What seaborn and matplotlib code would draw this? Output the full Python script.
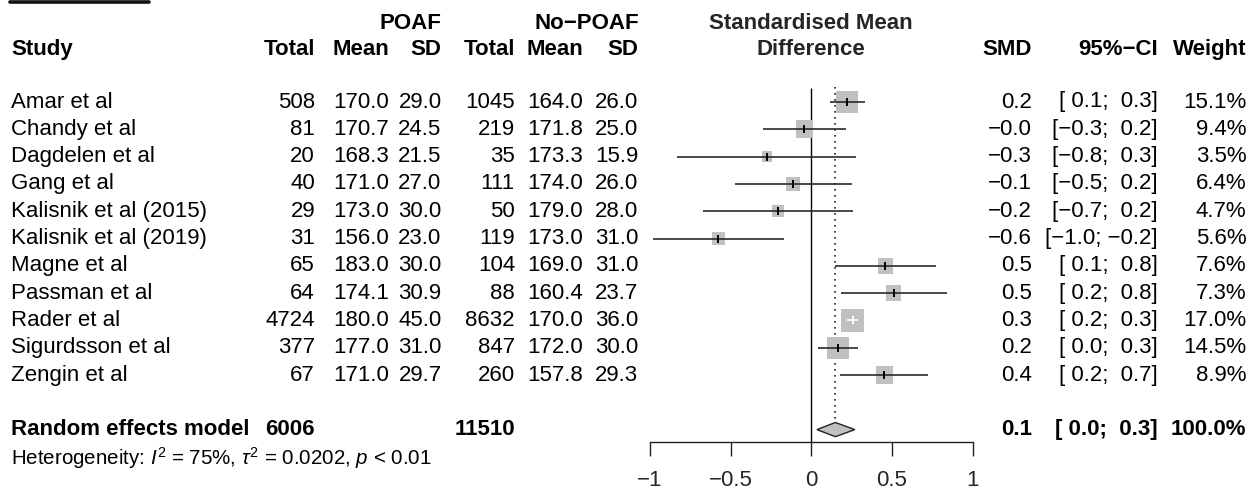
import numpy as np
import pandas as pd
import matplotlib
matplotlib.use("Agg")
import matplotlib.pyplot as plt
import matplotlib.transforms as mtransforms
from matplotlib.lines import Line2D
import seaborn as sns

# ---- data ----
studies = ["Amar et al", "Chandy et al", "Dagdelen et al", "Gang et al",
           "Kalisnik et al (2015)", "Kalisnik et al (2019)", "Magne et al",
           "Passman et al", "Rader et al", "Sigurdsson et al", "Zengin et al"]
poaf_total = [508, 81, 20, 40, 29, 31, 65, 64, 4724, 377, 67]
poaf_mean = [170.0, 170.7, 168.3, 171.0, 173.0, 156.0, 183.0, 174.1, 180.0, 177.0, 171.0]
poaf_sd = [29.0, 24.5, 21.5, 27.0, 30.0, 23.0, 30.0, 30.9, 45.0, 31.0, 29.7]
nopoaf_total = [1045, 219, 35, 111, 50, 119, 104, 88, 8632, 847, 260]
nopoaf_mean = [164.0, 171.8, 173.3, 174.0, 179.0, 173.0, 169.0, 160.4, 170.0, 172.0, 157.8]
nopoaf_sd = [26.0, 25.0, 15.9, 26.0, 28.0, 31.0, 31.0, 23.7, 36.0, 30.0, 29.3]

smd = [0.221, -0.043, -0.275, -0.114, -0.207, -0.576, 0.460, 0.511, 0.256, 0.165, 0.453]
ci_lo = [0.114, -0.300, -0.830, -0.476, -0.669, -0.980, 0.149, 0.184, 0.220, 0.040, 0.180]
ci_hi = [0.330, 0.217, 0.280, 0.253, 0.257, -0.170, 0.776, 0.839, 0.290, 0.287, 0.725]
weight = [15.1, 9.4, 3.5, 6.4, 4.7, 5.6, 7.6, 7.3, 17.0, 14.5, 8.9]

smd_txt = ["0.2", "\u22120.0", "\u22120.3", "\u22120.1", "\u22120.2", "\u22120.6",
           "0.5", "0.5", "0.3", "0.2", "0.4"]
ci_txt = ["[ 0.1;  0.3]", "[\u22120.3;  0.2]", "[\u22120.8;  0.3]", "[\u22120.5;  0.2]",
          "[\u22120.7;  0.2]", "[\u22121.0; \u22120.2]", "[ 0.1;  0.8]", "[ 0.2;  0.8]",
          "[ 0.2;  0.3]", "[ 0.0;  0.3]", "[ 0.2;  0.7]"]
weight_txt = ["15.1%", "9.4%", "3.5%", "6.4%", "4.7%", "5.6%", "7.6%", "7.3%",
              "17.0%", "14.5%", "8.9%"]

pooled_smd = 0.149
pooled_lo = 0.035
pooled_hi = 0.270
pooled_n = [6006, 11510]
pooled_txt = ["0.1", "[ 0.0;  0.3]", "100.0%"]
het_txt = r"Heterogeneity: $I^2$ = 75%, $\tau^2$ = 0.0202, $p$ < 0.01"

xticks = [-1, -0.5, 0, 0.5, 1]
xtick_labels = ["\u22121", "\u22120.5", "0", "0.5", "1"]

df = pd.DataFrame({"study": studies, "smd": smd, "lo": ci_lo, "hi": ci_hi,
                   "weight": weight})
df["row"] = np.arange(len(df))

# ---- style ----
sns.set_theme(style="white")
plt.rcParams["font.family"] = ["Liberation Sans", "DejaVu Sans"]
plt.rcParams["mathtext.fontset"] = "custom"
plt.rcParams["mathtext.rm"] = "Liberation Sans"
plt.rcParams["mathtext.it"] = "Liberation Sans:italic"
plt.rcParams["mathtext.bf"] = "Liberation Sans:bold"

W, H = 1255, 496
FS = 16
fig = plt.figure(figsize=(W / 100, H / 100), dpi=100)
fig.patch.set_facecolor("white")

# forest panel: x from -1..1 spans pixels 650..972, bottom at axis line
px_unit = 161.3
row_px = 27.3
row0_px = 102.0
axis_px = 442.3
ax = fig.add_axes([650 / W, (H - axis_px) / H, 2 * px_unit / W, axis_px / H])

# study boxes (area proportional to weight)
k = (5.75 * 0.72) ** 2
sns.scatterplot(data=df, x="smd", y="row", size="weight",
                sizes=(k * min(weight), k * max(weight)),
                size_norm=(min(weight), max(weight)),
                marker="s", color="#c0c0c0", edgecolor="none", linewidth=0,
                legend=False, ax=ax, clip_on=False, zorder=2)

ax.set_xlim(-1, 1)
ax.set_ylim((axis_px - row0_px) / row_px, -row0_px / row_px)
ax.set_facecolor("none")
for s in ["top", "left", "right"]:
    ax.spines[s].set_visible(False)
ax.spines["bottom"].set_linewidth(1.0)
ax.spines["bottom"].set_color("#222222")
ax.set_yticks([])
ax.set_xticks(xticks)
ax.set_xticklabels(xtick_labels, fontsize=FS)
ax.tick_params(axis="x", direction="out", length=10.4, width=1.0,
               color="#222222", pad=9.5, bottom=True)
ax.set_xlabel("")
ax.set_ylabel("")
ylim_bottom = ax.get_ylim()[0]

# reference lines (behind the boxes)
ax.vlines(0, -0.5, ylim_bottom, color="black", lw=1.0, clip_on=False, zorder=1)
ax.vlines(pooled_smd, -0.55, 11.74, color="#222222", lw=1.2,
          linestyles=(0, (1, 2.6)), clip_on=False, zorder=1)

# confidence intervals; drawn white when inside the box
side = 5.75 * np.sqrt(df["weight"]) / px_unit
inside = (df["hi"] - df["lo"]) < side
line_col = np.where(inside, "white", "#2a2a2a")
ax.hlines(df["row"], df["lo"], df["hi"], colors=line_col, lw=1.2, zorder=3,
          clip_on=False)
for r, x, c in zip(df["row"], df["smd"], line_col):
    ax.plot(x, r, marker="|", ms=6, mew=1.4, color="black" if c != "white" else "white",
            zorder=4, clip_on=False)

# pooled diamond
pr = len(df) + 1
hh = 0.26
ax.fill([pooled_lo, pooled_smd, pooled_hi, pooled_smd], [pr, pr - hh, pr, pr + hh],
        facecolor="#c0c0c0", edgecolor="#222222", lw=1.0, zorder=3, clip_on=False)

# ---- text table ----
tr = mtransforms.blended_transform_factory(fig.transFigure, ax.transData)


def put(xpx, y, s, ha="right", bold=False, size=FS):
    ax.text(xpx / W, y, s, transform=tr, ha=ha, va="center", fontsize=size,
            fontweight="bold" if bold else "normal", color="black", clip_on=False)


hdr1, hdr2 = -2.88, -1.93
put(441, hdr1, "POAF", bold=True)
put(639, hdr1, "No\u2212POAF", bold=True)
ax.text(0, hdr1, "Standardised Mean", ha="center", va="center", fontsize=FS,
        fontweight="bold", clip_on=False)
ax.text(0, hdr2, "Difference", ha="center", va="center", fontsize=FS,
        fontweight="bold", clip_on=False)
put(11, hdr2, "Study", ha="left", bold=True)
cols_x = [315, 389, 441.5, 515, 583, 638.5]
for xpx, lab in zip(cols_x, ["Total", "Mean", "SD", "Total", "Mean", "SD"]):
    put(xpx, hdr2, lab, bold=True)
put(1032, hdr2, "SMD", bold=True)
put(1158, hdr2, "95%\u2212CI", bold=True)
put(1246.5, hdr2, "Weight", bold=True)

for i in range(len(studies)):
    put(11, i, studies[i], ha="left")
    put(cols_x[0], i, f"{poaf_total[i]}")
    put(cols_x[1], i, f"{poaf_mean[i]:.1f}")
    put(cols_x[2], i, f"{poaf_sd[i]:.1f}")
    put(cols_x[3], i, f"{nopoaf_total[i]}")
    put(cols_x[4], i, f"{nopoaf_mean[i]:.1f}")
    put(cols_x[5], i, f"{nopoaf_sd[i]:.1f}")
    put(1032, i, smd_txt[i])
    put(1158, i, ci_txt[i])
    put(1246.5, i, weight_txt[i])

put(11, pr, "Random effects model", ha="left", bold=True)
put(cols_x[0], pr, f"{pooled_n[0]}", bold=True)
put(cols_x[3], pr, f"{pooled_n[1]}", bold=True)
put(1032, pr, pooled_txt[0], bold=True)
put(1158, pr, pooled_txt[1], bold=True)
put(1246.5, pr, pooled_txt[2], bold=True)
put(11, pr + 1.05, het_txt, ha="left", size=14.8)

# leftover rule at the very top
fig.add_artist(Line2D([10 / W, 149 / W], [1 - 2 / H, 1 - 2 / H], lw=2.6,
                      color="#111111", transform=fig.transFigure))

fig.savefig("out.png", dpi=100, facecolor="white")
